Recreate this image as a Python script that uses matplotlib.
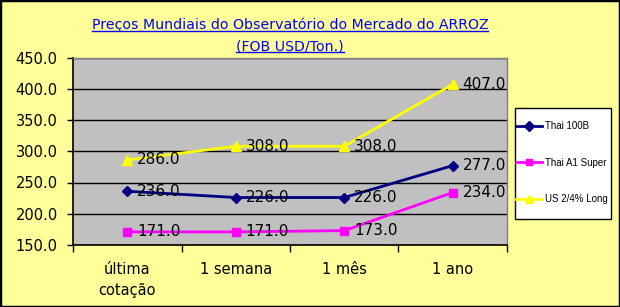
import matplotlib
matplotlib.use("Agg")
import matplotlib.pyplot as plt
from matplotlib.patches import Rectangle
from matplotlib.lines import Line2D

categories = ["última\ncotação", "1 semana", "1 mês", "1 ano"]
series_names = ["Thai 100B", "Thai A1 Super", "US 2/4% Long"]
thai_100b = [236.0, 226.0, 226.0, 277.0]
thai_a1 = [171.0, 171.0, 173.0, 234.0]
us_long = [286.0, 308.0, 308.0, 407.0]
yticks = [150, 200, 250, 300, 350, 400, 450]
title_lines = ["Preços Mundiais do Observatório do Mercado do ARROZ", "(FOB USD/Ton.)"]

colors = ["#000080", "#FF00FF", "#FFFF00"]
markers = ["D", "s", "^"]
msizes = [5.5, 5.5, 7]
bg = "#FFFF99"
W, H = 620, 307

fig = plt.figure(figsize=(6.2, 3.07), dpi=100, facecolor=bg)
fig.patches.append(Rectangle((0, 0), 1, 1, transform=fig.transFigure,
                             fill=False, edgecolor="black", linewidth=2.5))

ax = fig.add_axes([73/W, 1-245/H, (507-73)/W, (245-57.5)/H])
ax.set_facecolor("#C0C0C0")
x = list(range(len(categories)))

handles = []
for vals, name, c, m, ms in zip([thai_100b, thai_a1, us_long], series_names, colors, markers, msizes):
    h, = ax.plot(x, vals, color=c, marker=m, markersize=ms, linewidth=2, label=name, zorder=3,
                 clip_on=False)
    handles.append(h)
    for xi, v in zip(x, vals):
        ax.annotate(f"{v:.1f}", (xi, v), xytext=(7, 0), textcoords="offset points",
                    ha="left", va="center", fontsize=11, color="black", zorder=4)

ax.set_xlim(-0.5, len(categories) - 0.5)
ax.set_ylim(150, 450)
ax.set_yticks(yticks)
ax.set_yticklabels([f"{t:.1f}" for t in yticks], fontsize=10.5)
ax.yaxis.grid(True, color="black", linewidth=1)
ax.set_axisbelow(True)
ax.tick_params(axis="y", direction="out", length=4, width=1, color="black", pad=7)

ax.set_xticks(x)
ax.set_xticklabels(categories, fontsize=10.5, linespacing=1.5)
ax.set_xticks([i - 0.5 for i in range(len(categories) + 1)], minor=True)
ax.tick_params(axis="x", which="major", length=0, pad=12)
ax.tick_params(axis="x", which="minor", direction="out", length=5, width=1, color="black")

for s in ["top", "right"]:
    ax.spines[s].set_color("#808080")
    ax.spines[s].set_linewidth(1)
for s in ["left", "bottom"]:
    ax.spines[s].set_color("black")
    ax.spines[s].set_linewidth(1.2)

cx = (73 + 507) / 2 / W
titles = []
for line, ypx in zip(title_lines, [25, 46]):
    t = fig.text(cx, 1 - ypx/H, line, ha="center", va="center", fontsize=10.2,
                 color="#0000FF")
    titles.append(t)

# legend box
fig.patches.append(Rectangle((515/W, 1-219/H), (611-515)/W, (219-108)/H,
                             transform=fig.transFigure, facecolor="white",
                             edgecolor="black", linewidth=1, zorder=1))
leg = fig.legend(handles=handles, labels=series_names, loc="upper left",
                 bbox_to_anchor=(516/W, 1 - 121/H),
                 prop={"family": "Liberation Sans", "size": 7},
                 frameon=False, handlelength=2.7, handletextpad=0.3, labelspacing=2.75,
                 borderpad=0, borderaxespad=0, markerscale=0.9)
leg.set_zorder(2)

# underline the title
fig.canvas.draw()
r = fig.canvas.get_renderer()
for t in titles:
    bb = t.get_window_extent(r)
    yline = bb.y0 + 1
    fig.add_artist(Line2D([bb.x0/W, bb.x1/W], [yline/H, yline/H], transform=fig.transFigure,
                          color="#0000FF", linewidth=1))

fig.savefig("out.png", dpi=100, facecolor=bg)
